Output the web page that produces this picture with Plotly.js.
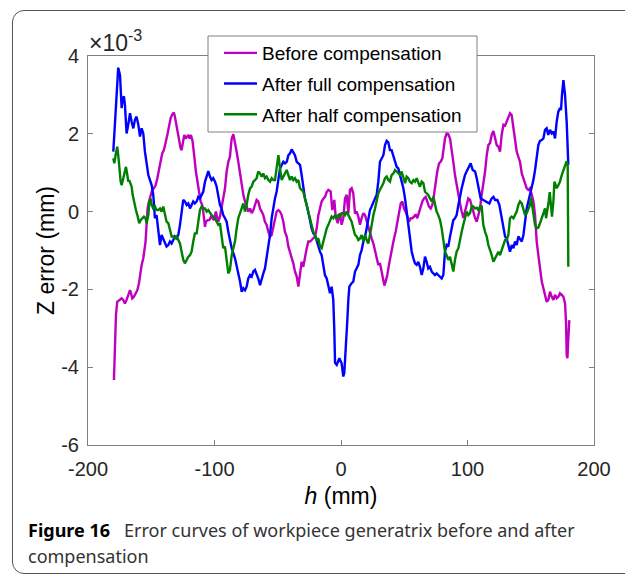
<!DOCTYPE html>
<html>
<head>
<meta charset="utf-8">
<script src="https://cdn.plot.ly/plotly-3.0.1.min.js"></script>
<style>
  html, body { margin: 0; padding: 0; background: #fff; }
  #frame { position: absolute; left: 12px; top: 10px; width: 660px; height: 564px;
           border: 1.5px solid #555; border-radius: 12px; box-sizing: border-box; }
  #chart { position: absolute; left: 0; top: 0; width: 625px; height: 576px; }
</style>
</head>
<body>
<div id="frame"></div>
<div id="chart"></div>
<script>
// Values: h in mm, Z error in units of 1e-3 mm
const seriesNames = ['Before compensation', 'After full compensation', 'After half compensation'];
const xTicks = [-200, -100, 0, 100, 200];
const yTicks = [-6, -4, -2, 0, 2, 4];

const beforeCurve = [
  [-179.5,-4.33],[-178.7,-3.51],[-177.9,-2.66],[-176.9,-2.32],[-174.7,-2.27],[-173.4,-2.23],[-172.1,-2.27],[-170.8,-2.36],[-169.5,-2.27],[-168.2,-2.14],
  [-166.8,-2.02],[-166.0,-2.10],[-165.0,-2.23],[-163.7,-2.19],[-162.4,-2.10],[-161.0,-2.02],[-159.7,-1.84],[-158.7,-1.54],[-157.6,-1.37],[-156.3,-1.20],
  [-155.5,-1.03],[-154.5,-0.77],[-153.7,-0.34],[-152.9,0.08],[-151.8,0.26],[-150.5,0.43],[-149.2,0.56],[-147.9,0.60],[-146.5,0.68],[-145.2,0.86],
  [-143.9,1.07],[-142.6,1.28],[-141.3,1.50],[-140.0,1.58],[-138.6,1.76],[-137.3,1.97],[-136.0,2.18],[-134.7,2.40],[-133.4,2.50],[-132.1,2.55],
  [-131.3,2.44],[-130.2,2.23],[-129.2,2.06],[-128.1,1.80],[-126.8,1.63],[-126.0,1.58],[-125.2,1.76],[-123.9,1.97],[-122.8,1.88],[-121.8,1.93],
  [-120.7,1.97],[-119.7,1.88],[-118.6,1.97],[-117.3,1.80],[-116.2,1.54],[-115.5,1.28],[-114.7,1.03],[-113.6,0.77],[-112.8,0.60],[-112.0,0.43],
  [-111.0,0.26],[-110.2,0.21],[-109.4,0.13],[-108.3,-0.17],[-107.5,-0.39],[-106.8,-0.26],[-105.4,-0.22],[-104.1,-0.22],[-102.8,-0.13],[-101.5,-0.17],
  [-100.4,-0.22],[-99.6,-0.09],[-98.9,0.0],[-97.8,-0.17],[-97.0,-0.26],[-95.7,-0.13],[-94.4,0.08],[-93.1,0.34],[-91.7,0.60],[-90.4,1.03],
  [-89.1,1.28],[-87.8,1.41],[-86.4,1.88],[-85.1,1.99],[-83.8,1.80],[-82.5,1.54],[-81.2,1.28],[-79.8,0.94],[-78.5,0.68],[-77.2,0.43],
  [-75.9,0.26],[-74.6,0.13],[-73.3,0.0],[-71.9,0.08],[-70.6,-0.04],[-69.3,0.04],[-68.0,0.21],[-66.7,0.30],[-65.4,0.26],[-64.0,0.08],
  [-62.7,0.0],[-61.4,-0.09],[-60.1,-0.26],[-58.8,-0.34],[-57.4,-0.52],[-56.1,-0.64],[-54.8,-0.60],[-53.5,-0.39],[-52.2,-0.22],[-50.9,0.0],
  [-49.5,0.04],[-48.2,0.0],[-46.9,-0.09],[-45.6,-0.26],[-44.3,-0.52],[-42.9,-0.64],[-41.6,-0.90],[-40.3,-1.03],[-39.0,-1.20],[-37.7,-1.33],
  [-36.4,-1.54],[-35.0,-1.67],[-33.7,-1.93],[-32.4,-1.63],[-31.1,-1.29],[-29.8,-1.42],[-28.5,-1.16],[-27.1,-0.94],[-25.8,-0.77],[-24.5,-0.77],
  [-23.2,-0.73],[-21.9,-0.69],[-20.6,-0.64],[-19.2,-0.43],[-17.9,-0.09],[-16.6,0.08],[-15.3,0.26],[-14.0,0.33],[-12.6,0.38],[-11.3,0.50],
  [-10.0,0.56],[-8.2,0.52],[-6.9,0.04],[-5.3,0.30],[-4.2,-0.13],[-2.6,-0.30],[-0.8,-0.04],[0.5,-0.34],[1.8,-0.17],[3.2,0.34],
  [4.5,0.43],[5.8,-0.04],[7.1,0.56],[8.4,0.60],[9.7,0.47],[11.1,-0.05],[12.4,0.0],[13.7,-0.13],[15.0,-0.34],[16.3,-0.17],
  [17.7,-0.04],[19.0,-0.09],[20.3,-0.26],[21.6,-0.43],[22.9,-0.60],[24.2,-0.69],[25.6,-0.82],[26.9,-0.99],[28.2,-1.20],[29.5,-1.37],
  [30.8,-1.33],[32.1,-1.54],[33.5,-1.80],[34.3,-1.90],[35.3,-1.80],[36.6,-1.63],[37.9,-1.37],[39.3,-1.12],[40.6,-0.86],[41.9,-0.69],
  [43.2,-0.52],[44.5,-0.26],[45.8,0.0],[47.2,0.21],[48.5,0.26],[49.8,0.08],[51.1,0.0],[52.4,-0.13],[53.8,-0.26],[55.1,-0.17],
  [56.4,-0.17],[57.7,-0.13],[59.0,-0.07],[60.3,-0.17],[61.7,0.0],[63.0,0.17],[64.3,0.26],[65.6,0.34],[66.9,0.38],[68.2,0.26],
  [69.6,0.13],[70.9,0.08],[72.2,0.17],[73.5,0.43],[74.8,0.77],[76.1,1.03],[77.5,1.24],[78.8,1.28],[80.1,1.37],[80.9,1.54],
  [82.2,1.88],[83.5,2.01],[84.8,1.99],[86.2,1.88],[87.5,1.63],[88.8,1.28],[90.1,0.94],[91.4,0.68],[92.8,0.43],[94.1,0.21],
  [95.4,0.0],[96.7,-0.16],[98.0,0.0],[99.3,0.17],[100.6,0.34],[102.0,0.30],[103.3,0.17],[104.6,0.0],[106.0,-0.17],[107.3,-0.26],
  [108.6,-0.09],[109.9,0.08],[111.2,0.43],[112.5,0.68],[113.9,1.03],[115.2,1.45],[116.5,1.71],[117.8,1.76],[119.1,1.97],[120.5,2.07],
  [121.8,1.88],[123.1,1.71],[124.4,1.67],[125.7,1.54],[127.0,1.97],[128.4,2.23],[129.7,2.21],[131.0,2.31],[132.3,2.44],[133.6,2.53],
  [134.9,2.48],[136.3,2.14],[137.6,1.80],[138.9,1.54],[140.2,1.41],[141.5,1.28],[142.9,0.98],[144.2,0.86],[145.5,0.77],[146.8,0.60],
  [148.1,0.56],[149.4,0.60],[150.8,0.43],[152.1,0.26],[153.4,-0.09],[154.7,-0.77],[156.0,-1.12],[157.3,-1.46],[158.7,-1.80],[160.0,-1.97],
  [161.3,-2.14],[162.6,-2.32],[163.9,-2.27],[165.2,-2.06],[166.6,-2.19],[167.9,-2.27],[169.2,-2.14],[170.5,-2.23],[171.8,-2.19],[173.1,-2.10],
  [174.5,-2.14],[175.8,-2.19],[177.1,-2.36],[177.9,-2.83],[178.4,-3.69],[179.0,-3.77],[179.7,-3.26],[180.5,-2.79]
];

const fullCurve = [
  [-180.0,1.54],[-178.7,2.31],[-177.4,3.17],[-176.1,3.70],[-174.7,3.51],[-173.4,2.66],[-172.6,2.91],[-171.6,2.96],[-170.8,2.74],[-169.5,2.01],
  [-168.2,2.23],[-166.8,2.53],[-165.5,2.31],[-164.2,2.14],[-162.9,2.36],[-161.6,2.44],[-160.2,2.23],[-158.9,1.93],[-157.6,2.14],[-156.3,2.01],
  [-155.0,1.54],[-153.7,1.20],[-152.3,0.94],[-151.0,0.81],[-149.7,0.68],[-148.4,0.43],[-147.1,-0.17],[-145.8,-0.09],[-144.4,-0.43],[-143.1,-0.86],
  [-141.8,-0.60],[-140.5,-0.69],[-139.2,-0.77],[-137.9,-0.90],[-136.5,-0.86],[-135.2,-0.77],[-133.9,-0.82],[-132.6,-0.73],[-131.3,-0.64],[-129.9,-0.69],
  [-128.6,-0.60],[-127.3,-0.34],[-126.0,0.0],[-124.7,0.30],[-123.4,0.26],[-122.0,0.17],[-120.7,0.21],[-119.4,0.08],[-118.1,0.17],[-116.8,0.26],
  [-115.5,0.21],[-114.1,0.26],[-112.8,0.38],[-111.5,0.34],[-110.2,0.43],[-108.9,0.51],[-107.5,0.77],[-106.2,0.94],[-104.9,1.04],[-103.6,0.90],
  [-102.3,0.81],[-101.0,0.86],[-99.6,0.77],[-98.3,0.64],[-97.0,0.43],[-95.7,0.17],[-94.4,0.08],[-93.1,-0.09],[-91.7,-0.17],[-90.4,-0.26],
  [-89.1,-0.52],[-86.4,-0.94],[-83.8,-1.20],[-81.2,-1.54],[-79.8,-1.80],[-78.5,-2.06],[-77.2,-1.97],[-75.9,-2.02],[-74.6,-1.93],[-73.3,-1.72],
  [-71.9,-1.63],[-70.6,-1.67],[-69.3,-1.54],[-68.0,-1.50],[-66.7,-1.59],[-65.4,-1.72],[-64.0,-1.89],[-62.7,-1.72],[-61.4,-1.59],[-60.1,-1.46],
  [-58.8,-1.20],[-57.4,-0.94],[-56.1,-0.60],[-54.8,-0.17],[-53.5,0.13],[-52.2,0.34],[-50.9,0.51],[-49.5,0.77],[-48.2,1.11],[-46.9,1.20],
  [-45.6,1.28],[-44.3,1.24],[-42.9,1.28],[-41.6,1.45],[-40.3,1.50],[-39.0,1.60],[-37.7,1.54],[-36.4,1.45],[-35.0,1.28],[-33.7,1.24],
  [-32.4,1.20],[-31.1,0.94],[-29.8,0.60],[-28.5,0.34],[-27.1,0.17],[-25.8,0.0],[-24.5,-0.22],[-23.2,-0.43],[-21.9,-0.56],[-20.6,-0.60],
  [-19.2,-0.77],[-17.9,-0.90],[-16.6,-1.03],[-15.3,-1.12],[-14.0,-1.37],[-12.7,-1.63],[-11.3,-1.72],[-10.0,-1.89],[-8.7,-2.10],[-7.4,-1.93],
  [-6.1,-2.27],[-5.3,-3.04],[-4.7,-3.89],[-3.4,-3.94],[-2.1,-3.81],[-1.3,-3.77],[0.5,-3.90],[1.8,-4.24],[2.6,-4.15],[4.0,-3.47],
  [5.0,-2.79],[5.8,-2.27],[6.6,-1.93],[8.4,-1.84],[9.7,-1.80],[11.1,-1.54],[12.4,-1.46],[13.7,-1.37],[15.0,-1.12],[16.3,-0.99],
  [17.7,-0.77],[19.0,-0.64],[20.3,-0.43],[21.6,-0.17],[22.9,0.04],[24.2,0.13],[25.6,0.26],[26.9,0.34],[28.2,0.43],[29.5,0.77],
  [30.8,1.28],[32.1,1.37],[33.5,1.45],[34.8,1.71],[36.1,1.82],[37.4,1.78],[38.7,1.58],[40.0,1.58],[41.4,1.45],[42.7,1.28],
  [44.0,1.15],[45.3,1.11],[46.6,0.94],[47.9,0.77],[49.3,0.60],[50.6,0.34],[51.9,0.0],[53.2,-0.43],[54.5,-0.77],[55.9,-1.03],
  [57.2,-1.20],[58.5,-1.33],[59.8,-1.37],[61.1,-1.29],[62.4,-1.42],[63.8,-1.63],[65.1,-1.46],[66.4,-1.16],[67.7,-1.29],[69.0,-1.46],
  [70.3,-1.42],[71.7,-1.54],[73.0,-1.59],[74.3,-1.63],[75.6,-1.59],[76.9,-1.63],[78.3,-1.67],[79.6,-1.72],[80.9,-1.63],[82.2,-1.03],
  [83.5,-0.86],[84.8,-0.90],[86.2,-0.64],[87.5,-0.39],[88.8,-0.22],[90.1,-0.17],[91.4,-0.09],[92.8,0.17],[94.1,0.43],[95.4,0.60],
  [96.7,0.77],[98.0,0.94],[99.3,1.03],[102.5,1.24],[104.1,1.07],[106.0,1.03],[107.3,0.86],[108.6,0.60],[110.4,0.34],[112.5,0.30],
  [115.2,0.26],[117.3,0.21],[119.1,0.34],[120.5,0.38],[121.8,0.30],[123.6,0.30],[125.2,0.17],[127.0,-0.17],[128.4,-0.43],[129.7,-0.64],
  [131.0,-0.69],[132.3,-0.90],[133.6,-1.03],[135.0,-0.86],[136.3,-0.94],[137.6,-0.77],[138.9,-0.86],[140.2,-0.64],[141.5,-0.69],[142.9,-0.77],
  [144.2,-0.60],[145.5,-0.17],[146.8,0.08],[148.1,0.26],[149.4,0.43],[150.8,0.68],[152.1,0.81],[153.4,1.07],[154.7,1.37],[156.0,1.71],
  [157.3,1.82],[158.7,1.84],[160.0,1.88],[161.3,2.10],[162.6,2.14],[163.9,1.97],[165.2,2.10],[166.6,2.01],[167.9,2.06],[169.2,1.88],
  [170.5,2.31],[171.8,2.57],[173.1,2.66],[173.9,2.61],[174.7,3.00],[175.8,3.38],[177.1,3.00],[178.4,2.31],[179.7,1.20]
];

const halfCurve = [
  [-180.0,1.37],[-179.2,1.24],[-178.2,1.45],[-176.9,1.67],[-176.1,1.45],[-175.3,1.11],[-174.2,0.77],[-173.4,0.68],[-172.1,0.86],[-170.8,1.11],
  [-170.0,1.15],[-168.9,0.94],[-168.2,0.77],[-167.4,0.81],[-166.3,0.68],[-165.5,0.64],[-164.7,0.43],[-163.7,0.26],[-162.9,0.13],[-162.1,0.04],
  [-161.0,-0.09],[-160.2,-0.26],[-159.5,-0.30],[-158.4,-0.22],[-157.1,-0.17],[-155.8,-0.13],[-154.5,-0.17],[-153.7,-0.30],[-152.3,-0.09],[-151.5,0.26],
  [-150.5,0.34],[-149.7,0.17],[-148.4,0.08],[-147.1,0.13],[-145.8,0.04],[-144.4,0.04],[-143.1,0.08],[-141.8,0.0],[-140.5,0.13],[-139.2,-0.09],
  [-137.9,-0.26],[-136.5,-0.30],[-135.2,-0.52],[-133.9,-0.64],[-132.6,-0.64],[-131.3,-0.69],[-129.9,-0.64],[-128.6,-0.73],[-127.3,-0.82],[-126.0,-1.03],
  [-124.7,-1.24],[-123.4,-1.33],[-122.0,-1.24],[-120.7,-1.16],[-119.4,-1.12],[-118.1,-1.03],[-116.8,-0.77],[-115.5,-0.56],[-114.1,-0.56],[-112.8,-0.17],
  [-111.5,0.04],[-110.2,0.13],[-108.9,0.08],[-107.5,0.08],[-106.2,0.0],[-104.9,0.04],[-103.6,-0.04],[-102.3,-0.09],[-101.0,-0.13],[-99.6,-0.17],
  [-98.3,-0.26],[-97.0,-0.34],[-95.7,-0.30],[-94.4,-0.60],[-93.1,-0.94],[-91.7,-0.90],[-90.4,-1.20],[-89.1,-1.59],[-87.8,-1.50],[-86.4,-1.12],
  [-85.1,-0.94],[-83.8,-0.77],[-82.5,-0.43],[-81.2,-0.17],[-79.8,-0.04],[-78.5,0.08],[-77.2,0.21],[-75.9,0.0],[-74.6,0.17],[-73.3,0.43],
  [-71.9,0.60],[-70.6,0.64],[-69.3,0.77],[-68.0,0.81],[-66.7,0.86],[-65.4,1.03],[-64.0,0.98],[-62.7,0.90],[-61.4,0.98],[-60.1,0.86],
  [-58.8,0.90],[-57.4,0.81],[-56.1,0.77],[-54.8,0.86],[-53.5,0.81],[-52.2,0.81],[-50.9,1.20],[-49.5,1.45],[-48.2,1.11],[-46.9,0.81],
  [-45.6,0.90],[-44.3,0.98],[-42.9,1.07],[-41.6,0.94],[-40.3,0.81],[-39.0,0.90],[-37.7,0.81],[-36.4,0.86],[-35.0,0.77],[-33.7,0.81],
  [-32.4,0.60],[-31.1,0.56],[-29.8,0.51],[-28.5,0.34],[-27.1,0.17],[-25.8,0.0],[-24.5,-0.17],[-23.2,-0.34],[-21.9,-0.52],[-20.6,-0.60],
  [-19.2,-0.73],[-17.9,-0.69],[-16.6,-0.90],[-15.3,-0.94],[-14.0,-0.77],[-12.7,-0.60],[-11.3,-0.43],[-10.0,-0.34],[-8.7,-0.22],[-7.4,-0.13],
  [-6.1,-0.17],[-4.7,-0.09],[-3.4,-0.17],[-2.1,-0.09],[-0.8,-0.13],[0.5,-0.04],[1.8,-0.04],[3.2,-0.09],[4.5,0.0],[5.8,-0.09],
  [7.1,-0.17],[8.4,-0.26],[9.7,-0.43],[11.1,-0.60],[12.4,-0.64],[13.7,-0.73],[15.0,-0.69],[16.3,-0.60],[17.7,-0.77],[19.0,-0.60],
  [20.3,-0.73],[21.6,-0.82],[22.9,-0.60],[24.2,-0.30],[25.6,-0.09],[26.9,0.08],[28.2,0.26],[29.5,0.47],[30.8,0.56],[32.1,0.64],
  [33.5,0.73],[34.8,0.86],[36.1,0.90],[37.4,0.81],[38.7,0.77],[40.0,0.94],[41.4,0.98],[42.7,1.07],[44.0,1.03],[45.3,0.98],
  [46.6,0.94],[47.9,1.03],[49.3,0.86],[50.6,0.73],[51.9,0.90],[53.2,0.86],[54.5,0.77],[55.9,0.73],[57.2,0.81],[58.5,0.77],
  [59.8,0.86],[61.1,0.73],[62.4,0.64],[63.8,0.77],[65.1,0.73],[66.4,0.51],[67.7,0.47],[69.0,0.43],[70.3,0.34],[71.7,0.26],
  [73.0,0.38],[74.3,0.17],[75.6,0.0],[76.9,-0.09],[78.3,-0.22],[79.6,-0.43],[80.9,-0.69],[82.2,-1.03],[83.5,-1.12],[84.8,-1.24],
  [86.2,-1.16],[87.5,-1.33],[88.8,-1.54],[90.1,-1.24],[91.4,-1.03],[92.8,-0.94],[94.1,-0.69],[95.4,-0.52],[96.7,-0.34],[98.0,-0.17],
  [99.3,0.0],[100.6,-0.09],[102.0,-0.04],[103.3,0.13],[104.6,0.13],[106.0,0.08],[107.3,0.10],[108.6,0.04],[109.9,0.13],[111.2,0.13],
  [112.5,-0.34],[113.9,-0.52],[115.2,-0.64],[116.5,-0.86],[117.8,-1.03],[119.1,-1.12],[120.5,-1.29],[121.8,-1.20],[123.1,-1.12],[124.4,-1.03],
  [125.7,-1.12],[127.0,-0.99],[128.4,-0.90],[129.7,-0.73],[131.0,-0.73],[132.3,-0.60],[133.6,-0.17],[134.9,-0.13],[136.3,-0.17],[137.6,-0.09],
  [138.9,0.0],[140.2,0.17],[141.5,0.26],[142.9,0.21],[144.2,0.04],[145.5,-0.09],[146.8,-0.04],[148.1,0.08],[149.4,0.17],[150.2,0.36],
  [151.0,0.17],[152.1,-0.09],[153.4,-0.34],[154.7,-0.43],[156.0,-0.41],[157.3,-0.30],[158.7,-0.17],[160.0,0.0],[161.3,0.08],[162.1,-0.17],
  [163.1,0.0],[164.2,0.26],[165.0,0.50],[166.0,0.0],[166.8,-0.13],[167.9,0.26],[168.7,0.77],[169.7,0.68],[170.5,0.60],[171.8,0.68],
  [173.1,0.77],[174.5,0.94],[175.8,1.07],[177.1,1.20],[178.4,1.30],[179.2,1.20],[179.7,-1.42]
];

const curves = [beforeCurve, fullCurve, halfCurve];
const colors = ['#bf00bf', '#0000ff', '#008000'];

const traces = curves.map((c, i) => ({
  type: 'scatter', mode: 'lines',
  x: c.map(p => p[0]), y: c.map(p => p[1]),
  name: seriesNames[i], legendgroup: 'g' + i,
  line: { color: colors[i], width: 2.4 }
}));

// pixel -> paper helpers for layout decoration
const L = 88, T = 56, W = 506, H = 389;
const px = v => (v - L) / W;
const py = v => (T + H - v) / H;
const FONT = 'Liberation Sans';

const axisCommon = {
  showline: true, linecolor: '#808080', linewidth: 1, mirror: 'ticks',
  ticks: 'inside', ticklen: 5, tickcolor: '#808080', tickwidth: 1,
  showgrid: false, zeroline: false,
  tickfont: { family: FONT, size: 20, color: '#262626' }
};

const layout = {
  width: 625, height: 576,
  margin: { l: L, r: 625 - L - W, t: T, b: 576 - T - H },
  paper_bgcolor: 'rgba(0,0,0,0)', plot_bgcolor: '#fff',
  showlegend: true,
  xaxis: Object.assign({}, axisCommon, {
    range: [-200, 200], tickvals: xTicks, ticktext: xTicks.map(String),
    ticklabelstandoff: 6,
    title: { text: '<i>h</i> (mm)', standoff: 8,
             font: { family: FONT, size: 23, color: '#000' } }
  }),
  yaxis: Object.assign({}, axisCommon, {
    range: [-6, 4], tickvals: yTicks, ticktext: yTicks.map(String),
    ticklabelstandoff: 4,
    title: { text: 'Z error (mm)', standoff: 0,
             font: { family: FONT, size: 23, color: '#000' } }
  }),
  legend: {
    x: px(219), y: py(34), xanchor: 'left', yanchor: 'top',
    bgcolor: 'rgba(0,0,0,0)', borderwidth: 0,
    itemwidth: 33, traceorder: 'grouped', tracegroupgap: 3,
    font: { family: FONT, size: 19, color: '#000' }
  },
  shapes: [
    { type: 'rect', xref: 'paper', yref: 'paper', layer: 'above',
      x0: px(208), x1: px(477), y0: py(132), y1: py(36),
      fillcolor: '#fff', line: { color: '#808080', width: 1 } }
  ],
  annotations: [
    { xref: 'paper', yref: 'paper', x: px(87), y: 1, xanchor: 'left', yanchor: 'bottom',
      yshift: -2, showarrow: false, text: '×10<sup>-3</sup>',
      font: { family: FONT, size: 23, color: '#262626' } },
    { xref: 'paper', yref: 'paper', x: px(26), y: py(544), xanchor: 'left', yanchor: 'bottom',
      showarrow: false,
      text: '<b>Figure 16</b>&nbsp;&nbsp;&nbsp;<span style="color:#333">Error curves of workpiece generatrix before and after</span>',
      font: { family: 'Noto Sans', size: 18, color: '#000' } },
    { xref: 'paper', yref: 'paper', x: px(26), y: py(570), xanchor: 'left', yanchor: 'bottom',
      showarrow: false, text: 'compensation',
      font: { family: 'Noto Sans', size: 18, color: '#333' } }
  ]
};

Plotly.newPlot('chart', traces, layout, { displayModeBar: false, staticPlot: true });
</script>
</body>
</html>
